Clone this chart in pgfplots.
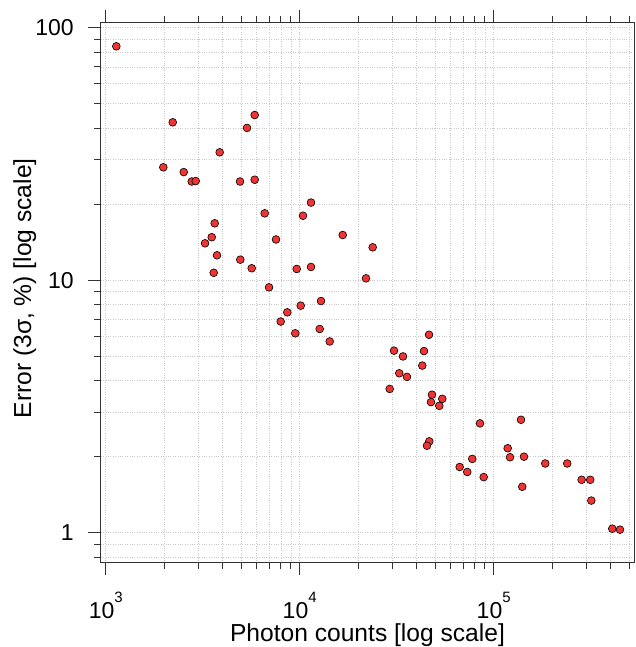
\documentclass[border=0pt]{standalone}
\usepackage{fontspec}
\setmainfont{Liberation Sans}
\usepackage{pgfplots}
\pgfplotsset{compat=1.18}
\definecolor{ptred}{RGB}{240,52,52}
\definecolor{gridc}{RGB}{200,200,200}
\definecolor{framec}{RGB}{50,50,50}
\newcommand{\pw}[1]{10\raisebox{16.5pt}{\fontsize{15}{15}\selectfont #1}}
\begin{document}
\begin{tikzpicture}
\begin{axis}[
  name=ax,
  scale only axis, width=533.6pt, height=540pt,
  xmode=log, ymode=log,
  xmin=942, xmax=531000, ymin=0.7606, ymax=104.7,
  axis line style={framec, line width=0.9pt},
  tick style={framec, line width=0.9pt},
  tick align=outside,
  xtick pos=both, ytick pos=left,
  xticklabel pos=lower,
  major tick length=12.5pt, minor tick length=6.5pt,
  xtick={1000,10000,100000},
  xticklabels={\pw{3},\pw{4},\pw{5}},
  minor xtick={2000,3000,4000,5000,6000,7000,8000,9000,20000,30000,40000,50000,60000,70000,80000,90000,200000,300000,400000,500000},
  ytick={1,10,100},
  yticklabels={1,10,100},
  minor ytick={0.8,0.9,2,3,4,5,6,7,8,9,20,30,40,50,60,70,80,90},
  grid=both,
  major grid style={gridc, dotted, line width=0.55pt},
  minor grid style={gridc, dotted, line width=0.55pt},
  ticklabel style={font=\fontsize{23}{23}\selectfont},
  xticklabel style={anchor=base, yshift=-43.5pt},
  yticklabel style={anchor=east, xshift=-11pt},
  label style={font=\fontsize{24.6}{24.6}\selectfont},
  xlabel={Photon counts [log scale]},
  ylabel={Error (3σ, \%) [log scale]},
  xlabel style={at={(axis description cs:0.5,-0.145)}, anchor=base},
  ylabel style={at={(axis description cs:-0.1306,0.508)}, anchor=base},
]
\addplot[only marks, mark=*, mark size=3.9pt,
  mark options={fill=ptred, draw=black, line width=0.6pt}]
table[row sep=\\] {
x y\\
1134 84.4\\
2215 42.2\\
1981 28.0\\
2524 26.8\\
2775 24.6\\
2910 24.7\\
3869 32.1\\
5350 40.1\\
5861 45.1\\
4923 24.6\\
5861 25.0\\
3646 16.8\\
3519 14.8\\
3250 14.0\\
3747 12.55\\
3603 10.7\\
4940 12.06\\
5657 11.15\\
6600 18.4\\
7548 14.5\\
6947 9.37\\
7982 6.86\\
8630 7.46\\
10120 7.93\\
9650 11.08\\
11434 11.28\\
10400 18.0\\
11434 20.3\\
12877 8.27\\
9490 6.16\\
12680 6.41\\
14280 5.72\\
16660 15.1\\
23780 13.5\\
21970 10.17\\
30630 5.26\\
34080 4.99\\
32620 4.28\\
35740 4.14\\
29100 3.71\\
43720 5.24\\
46410 6.08\\
42850 4.59\\
48080 3.52\\
47510 3.29\\
54340 3.39\\
52440 3.18\\
85000 2.71\\
138300 2.80\\
46560 2.30\\
45310 2.21\\
77580 1.96\\
66790 1.82\\
73090 1.74\\
88830 1.66\\
118100 2.16\\
121400 1.99\\
143300 2.00\\
184500 1.88\\
239500 1.88\\
140400 1.52\\
284100 1.62\\
314700 1.62\\
318600 1.34\\
408700 1.037\\
447800 1.028\\
};
\end{axis}
\pgfresetboundingbox
\path[use as bounding box] ([xshift=-100.7pt,yshift=-84.3pt]ax.south west) rectangle ([xshift=0.7pt,yshift=22.7pt]ax.north east);
\end{tikzpicture}
\end{document}
